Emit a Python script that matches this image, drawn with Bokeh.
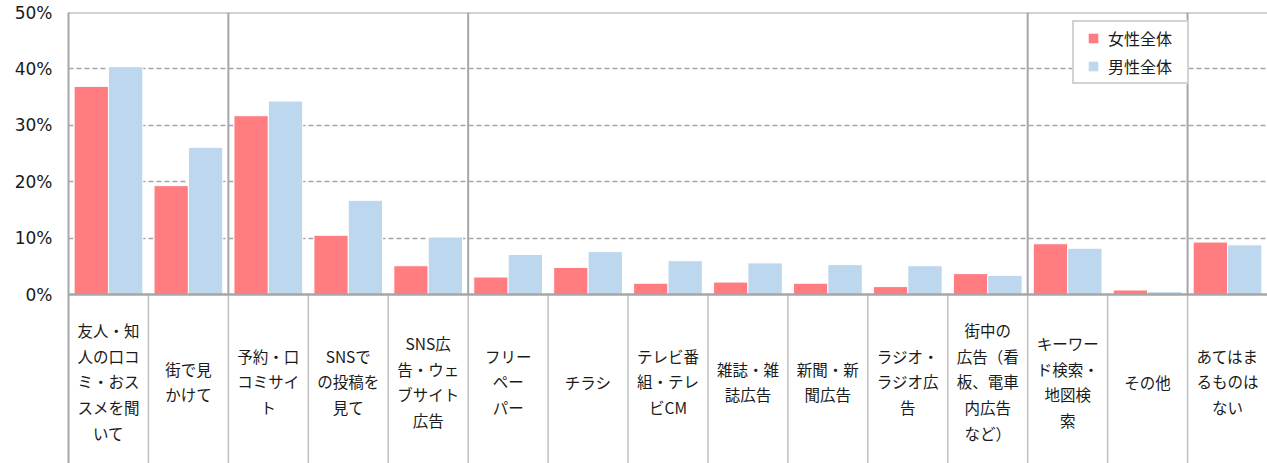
import numpy as np
from bokeh.plotting import figure
from bokeh.models import Range1d, FixedTicker, Span, ColumnDataSource, Legend, LegendItem
from bokeh.transform import dodge
from bokeh.core.properties import value
from bokeh.embed import file_html
from bokeh.resources import INLINE

# ---- data ----
category_labels = [
    "友人・知\n人の口コ\nミ・おス\nスメを聞\nいて",
    "街で見\nかけて",
    "予約・口\nコミサイ\nト",
    "SNSで\nの投稿を\n見て",
    "SNS広\n告・ウェ\nブサイト\n広告",
    "フリー\nペー\nパー",
    "チラシ",
    "テレビ番\n組・テレ\nビCM",
    "雑誌・雑\n誌広告",
    "新聞・新\n聞広告",
    "ラジオ・\nラジオ広\n告",
    "街中の\n広告（看\n板、電車\n内広告\nなど）",
    "キーワー\nド検索・\n地図検\n索",
    "その他",
    "あてはま\nるものは\nない",
]
female = [36.9, 19.3, 31.7, 10.5, 5.1, 3.1, 4.8, 2.0, 2.2, 2.0, 1.4, 3.7, 9.0, 0.8, 9.3]
male = [40.4, 26.1, 34.3, 16.7, 10.2, 7.1, 7.6, 6.0, 5.6, 5.3, 5.1, 3.4, 8.2, 0.5, 8.8]
series_names = ["女性全体", "男性全体"]
y_ticks = [0, 10, 20, 30, 40, 50]
y_tick_labels = ["0%", "10%", "20%", "30%", "40%", "50%"]
group_breaks = [2, 5, 12, 14]

# ---- layout ----
W, H = 1267, 463
LEFT, TOP = 68, 12
ZERO_PX = 294          # canvas y of the 0% baseline
Y_MAX = 50
scale = (ZERO_PX - TOP) / Y_MAX
y_start = -(H - ZERO_PX) / scale
label_y = -(381 - ZERO_PX) / scale
n = len(category_labels)

FEMALE_C = "#FF7C80"
MALE_C = "#BDD7EE"
GRID_C = "#A6A6A6"

p = figure(width=W, height=H, x_range=Range1d(0, n), y_range=Range1d(y_start, Y_MAX),
           output_backend="svg", toolbar_location=None,
           min_border_left=LEFT, min_border_top=TOP, min_border_right=0, min_border_bottom=0,
           x_axis_location=None)
p.outline_line_color = None
p.background_fill_color = "white"
p.border_fill_color = "white"

for g in p.xgrid:
    g.visible = False
p.ygrid.ticker = FixedTicker(ticks=[t for t in y_ticks if 0 < t < Y_MAX])
p.ygrid.grid_line_color = GRID_C
p.ygrid.grid_line_dash = "5 3"
p.ygrid.grid_line_width = 1.5

ax = p.yaxis[0]
ax.ticker = FixedTicker(ticks=y_ticks)
ax.major_label_overrides = {t: l for t, l in zip(y_ticks, y_tick_labels)}
ax.major_tick_out = 0
ax.major_tick_in = 0
ax.minor_tick_out = 0
ax.minor_tick_in = 0
ax.axis_line_color = GRID_C
ax.axis_line_width = 2
ax.major_label_standoff = 16
ax.major_label_text_font = "DejaVu Sans"
ax.major_label_text_font_size = "17px"
ax.major_label_text_color = "#1a1a1a"

src = ColumnDataSource(dict(x=np.arange(n) + 0.5, female=female, male=male,
                            label=category_labels, ly=[label_y] * n))

# label-area separators (all category boundaries)
bounds = np.arange(1, n)
p.segment(x0=bounds, y0=[y_start] * len(bounds), x1=bounds, y1=[0] * len(bounds),
          line_color="#C0C0C0", line_width=1.5)
# group separators inside plot area
p.segment(x0=group_breaks, y0=[0] * len(group_breaks), x1=group_breaks, y1=[Y_MAX] * len(group_breaks),
          line_color=GRID_C, line_width=2)

r1 = p.vbar(x=dodge("x", -0.215, range=p.x_range), top="female", width=0.43, source=src,
            fill_color=FEMALE_C, line_color="white", line_width=1)
r2 = p.vbar(x=dodge("x", 0.215, range=p.x_range), top="male", width=0.43, source=src,
            fill_color=MALE_C, line_color="white", line_width=1)

p.add_layout(Span(location=0, dimension="width", line_color=GRID_C, line_width=2.5))
p.add_layout(Span(location=Y_MAX, dimension="width", line_color=GRID_C, line_width=2))

p.text(x="x", y="ly", text="label", source=src, text_align="center", text_baseline="middle",
       text_font=value("Noto Sans CJK JP"), text_font_size="15.5px", text_line_height=1.17,
       text_color="#1a1a1a")

# legend swatches (square markers, centred in the glyph slot)
k1 = p.scatter(x=[np.nan], y=[np.nan], marker="square", fill_color=FEMALE_C, line_color=None)
k2 = p.scatter(x=[np.nan], y=[np.nan], marker="square", fill_color=MALE_C, line_color=None)

lg = Legend(items=[LegendItem(label=series_names[0], renderers=[k1]),
                   LegendItem(label=series_names[1], renderers=[k2])])
lg.location = (1004, 379)
lg.margin = 0
lg.padding = 4
lg.spacing = 4
lg.glyph_width = 30
lg.glyph_height = 24
lg.label_height = 24
lg.label_width = 75
lg.label_standoff = 0
lg.label_text_font = "Noto Sans CJK JP"
lg.label_text_font_size = "16px"
lg.label_text_color = "#1a1a1a"
lg.border_line_color = GRID_C
lg.border_line_width = 2
lg.background_fill_color = "white"
lg.background_fill_alpha = 1
p.add_layout(lg)

open("out.html", "w").write(file_html(p, INLINE))
